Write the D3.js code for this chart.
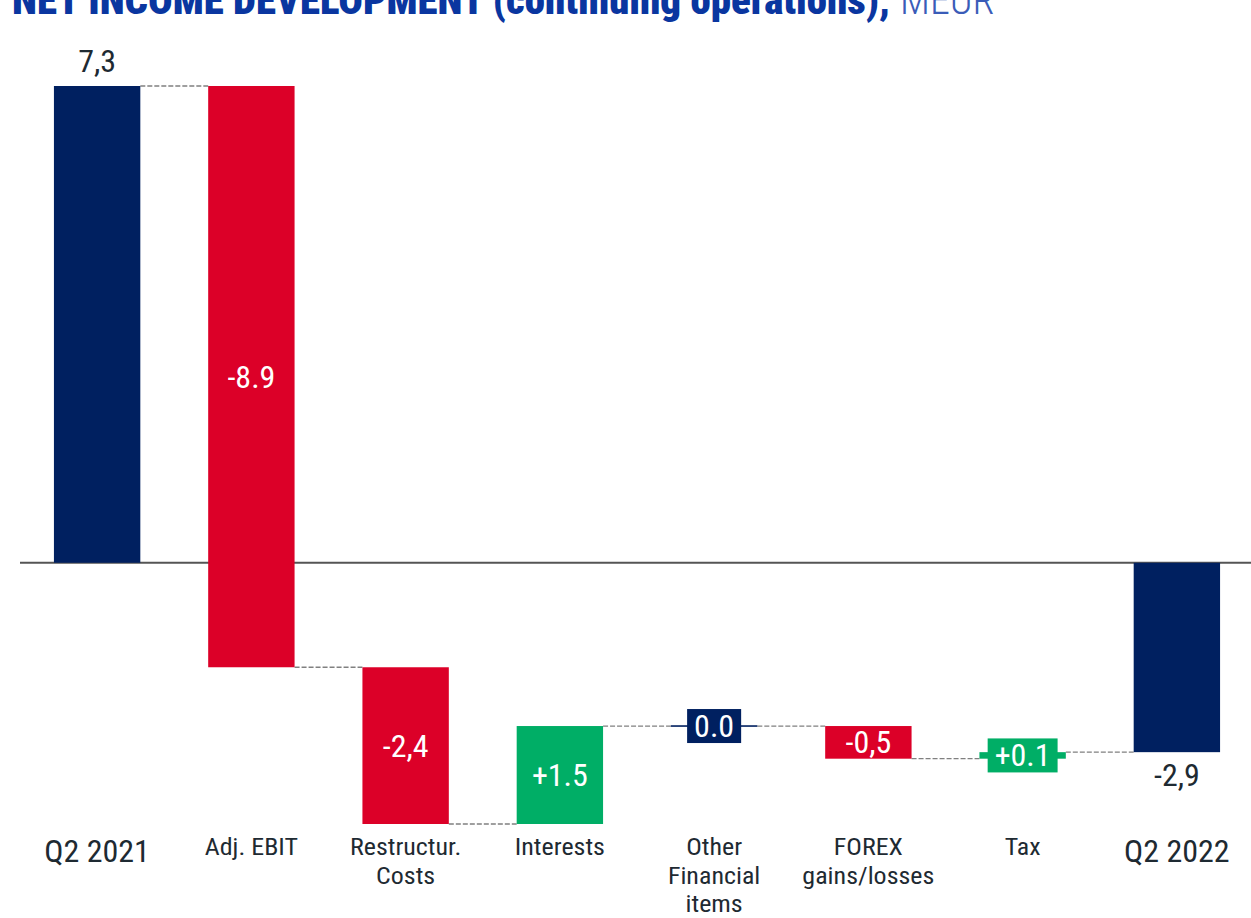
<!DOCTYPE html>
<html>
<head>
<meta charset="utf-8">
<script src="https://cdn.jsdelivr.net/npm/d3@7"></script>
<style>
  html, body { margin: 0; padding: 0; background: #fff; }
  svg { display: block; }
  .cond { font-family: "Roboto Condensed", "Liberation Sans Narrow", "DejaVu Sans Condensed", Roboto, sans-serif; }
</style>
</head>
<body>
<svg id="chart" width="1251" height="918"></svg>
<script>
// Waterfall steps: net income bridge, MEUR
const categories = [["Q2 2021"], ["Adj. EBIT"], ["Restructur.", "Costs"], ["Interests"],
                    ["Other", "Financial", "items"], ["FOREX", "gains/losses"], ["Tax"], ["Q2 2022"]];
const values = [7.3, -8.9, -2.4, 1.5, 0.0, -0.5, 0.1, -2.9];
const valueLabels = ["7,3", "-8.9", "-2,4", "+1.5", "0.0", "-0,5", "+0.1", "-2,9"];
const kinds = ["total", "step", "step", "step", "step", "step", "step", "total"];

const navy = "#002060", red = "#DC0028", green = "#00AE66", ink = "#1e2a32";

const svg = d3.select("#chart");
const W = 1251;

// Build running totals
let run = 0;
const bars = values.map((v, i) => {
  let y0, y1;
  if (kinds[i] === "total") { y0 = 0; y1 = v; run = v; }
  else { y0 = run; y1 = run + v; run = y1; }
  const color = kinds[i] === "total" || v === 0 ? navy : (v < 0 ? red : green);
  return { i, v, y0, y1, color, label: valueLabels[i], cat: categories[i], kind: kinds[i] };
});

const x = d3.scaleBand().domain(d3.range(values.length)).range([20, 1254])
  .paddingInner(0.44).paddingOuter(0.22);
const y = d3.scaleLinear().domain([-4, 7.3]).range([824, 86]);

// Title
const title = svg.append("text").attr("x", 12).attr("y", 14)
  .attr("class", "cond").attr("font-size", 40);
title.append("tspan").attr("font-weight", 900).attr("fill", "#0a36a0")
  .attr("textLength", 878).attr("lengthAdjust", "spacingAndGlyphs")
  .text("NET INCOME DEVELOPMENT (continuing operations),");
title.append("tspan").attr("font-weight", 300).attr("fill", "#3a5cb8").attr("dx", 10).text("MEUR");

// Zero line
svg.append("line").attr("x1", 20).attr("x2", W).attr("y1", y(0)).attr("y2", y(0))
  .attr("stroke", "#555").attr("stroke-width", 2);

// Dashed connectors between consecutive bars
bars.slice(0, -1).forEach((b, i) => {
  const lvl = b.y1;
  svg.append("line")
    .attr("x1", x(i) + x.bandwidth()).attr("x2", x(i + 1))
    .attr("y1", y(lvl)).attr("y2", y(lvl))
    .attr("stroke", "#808080").attr("stroke-width", 1.3).attr("stroke-dasharray", "5,2");
});

// Bars
bars.forEach(b => {
  const top = y(Math.max(b.y0, b.y1)), bot = y(Math.min(b.y0, b.y1));
  const h = Math.max(bot - top, 1.6);
  svg.append("rect").attr("x", x(b.i)).attr("width", x.bandwidth())
    .attr("y", b.v === 0 ? top - 0.8 : top).attr("height", h).attr("fill", b.color);
});

// Value labels
const vfs = 32;
bars.forEach(b => {
  const cx = x(b.i) + x.bandwidth() / 2;
  const top = y(Math.max(b.y0, b.y1)), bot = y(Math.min(b.y0, b.y1));
  if (b.kind === "total") {
    const ty = b.v >= 0 ? top - 14 : bot + 34;
    svg.append("text").attr("class", "cond").attr("x", cx).attr("y", ty)
      .attr("text-anchor", "middle").attr("font-size", vfs).attr("fill", ink).text(b.label);
  } else if (bot - top < 30) {
    // thin steps: label sits in a box of the bar colour
    const mid = (top + bot) / 2;
    const t = svg.append("text").attr("class", "cond").attr("x", cx).attr("y", mid + 11)
      .attr("text-anchor", "middle").attr("font-size", vfs).attr("fill", "#fff").text(b.label);
    const bb = t.node().getBBox();
    svg.insert("rect", () => t.node())
      .attr("x", cx - (bb.width + 14) / 2).attr("width", bb.width + 14)
      .attr("y", mid - 17).attr("height", 34).attr("fill", b.color);
  } else {
    svg.append("text").attr("class", "cond").attr("x", cx).attr("y", (top + bot) / 2 + 11)
      .attr("text-anchor", "middle").attr("font-size", vfs).attr("fill", "#fff").text(b.label);
  }
});

// Category labels (one text per line)
bars.forEach(b => {
  const cx = x(b.i) + x.bandwidth() / 2;
  const big = b.kind === "total";
  b.cat.forEach((line, k) => {
    const t = svg.append("text").attr("class", "cond").attr("x", cx)
      .attr("y", big ? 862 : 855 + k * 28.5).attr("text-anchor", "middle")
      .attr("font-size", big ? 32 : 24.5).attr("fill", ink).text(line);
    if (!big) {
      const w = t.node().getComputedTextLength();
      t.attr("textLength", w * 1.06).attr("lengthAdjust", "spacingAndGlyphs");
    }
  });
});
</script>
</body>
</html>
